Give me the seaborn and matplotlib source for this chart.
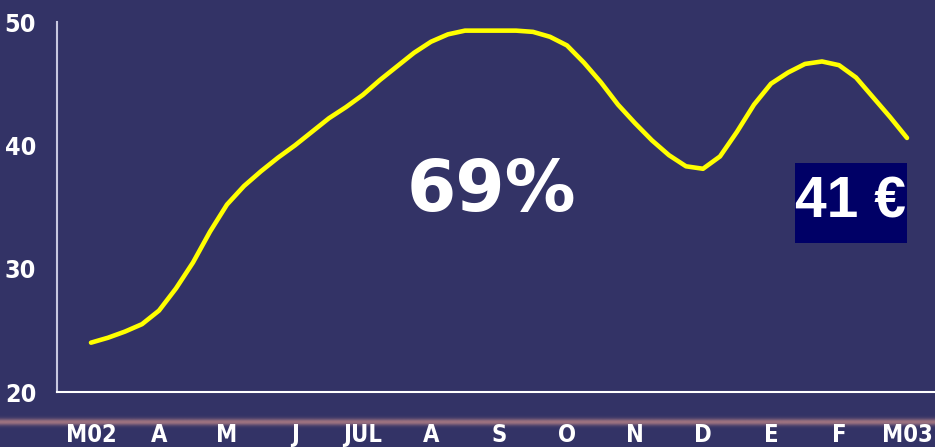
import numpy as np
import pandas as pd
import matplotlib
matplotlib.use('Agg')
import matplotlib.pyplot as plt
from matplotlib.patches import Rectangle
import seaborn as sns

# ----- data (quarter-month steps, M02 .. M03) -----
months = ['M02', 'A', 'M', 'J', 'JUL', 'A', 'S', 'O', 'N', 'D', 'E', 'F', 'M03']
price = [24.0, 24.4, 24.9, 25.5, 26.6, 28.4, 30.5, 33.0, 35.2, 36.7, 37.9, 39.0,
         40.0, 41.1, 42.2, 43.1, 44.1, 45.3, 46.4, 47.5, 48.4, 49.0, 49.3, 49.3,
         49.3, 49.3, 49.2, 48.8, 48.1, 46.7, 45.1, 43.3, 41.8, 40.4, 39.2, 38.3,
         38.1, 39.1, 41.1, 43.3, 45.0, 45.9, 46.6, 46.8, 46.5, 45.5, 43.9, 42.3, 40.6]
step = [i / 4 for i in range(len(price))]
share_label = '69%'
last_label = '41 €'
y_ticks = [20, 30, 40, 50]

BG = '#333366'
W, H = 935, 447

df = pd.DataFrame({'step': step, 'price': price})

sns.set_theme(style='white')
plt.rcParams['font.family'] = ['DejaVu Sans']

fig = plt.figure(figsize=(W / 100, H / 100), dpi=100)
fig.patch.set_facecolor(BG)

# glowing strip behind the month labels (slide template)
band = fig.add_axes([0, (H - 431) / H, 1, 18 / H], zorder=0)
prof = np.exp(-((np.linspace(-1, 1, 40)) / 0.38) ** 2)
rgba = np.zeros((40, 2, 4))
rgba[..., 0], rgba[..., 1], rgba[..., 2] = 165 / 255, 120 / 255, 130 / 255
rgba[..., 3] = prof[:, None] * 0.95
band.imshow(rgba, aspect='auto', extent=[0, 1, 0, 1], interpolation='bilinear')
band.patch.set_alpha(0)
band.axis('off')

ax = fig.add_axes([57 / W, (H - 392) / H, 884 / W, 370 / H], zorder=1)
ax.set_facecolor(BG)
ax.patch.set_alpha(0)

sns.lineplot(data=df, x='step', y='price', ax=ax, color='#FFFF00', linewidth=3.3,
             solid_capstyle='round', solid_joinstyle='round')

ax.set_xlim(-0.5, len(months) - 0.5)
ax.set_ylim(min(y_ticks), max(y_ticks))
ax.set_xlabel('')
ax.set_ylabel('')

lab_font = dict(fontweight='bold', color='white', fontstretch='condensed')

ax.set_xticks(np.arange(len(months) + 1) - 0.5)
ax.set_xticklabels([])
ax.set_xticks(np.arange(len(months)), minor=True)
ax.set_xticklabels(months, minor=True, fontsize=17, **lab_font)
ax.tick_params(axis='x', which='major', direction='out', length=8, width=1.2, color='#D8D8E8')
ax.tick_params(axis='x', which='minor', length=0, pad=22)

ax.set_yticks(y_ticks)
ax.set_yticklabels([str(v) for v in y_ticks], fontsize=18, **lab_font)
ax.tick_params(axis='y', direction='out', length=7, width=1.2, color='#D8D8E8', pad=8)

for side in ['top', 'right']:
    ax.spines[side].set_visible(False)
ax.spines['left'].set_color('#C8C8E0')
ax.spines['left'].set_linewidth(1.5)
ax.spines['bottom'].set_color('white')
ax.spines['bottom'].set_linewidth(1.5)

ax.text(0.492, 0.541, share_label, transform=ax.transAxes, ha='center', va='center',
        color='white', fontsize=51, fontweight='bold')

ax.add_patch(Rectangle((0.835, 0.4027), 0.1267, 0.216, transform=ax.transAxes,
                       facecolor='#000066', edgecolor='none', zorder=3))
ax.text(0.898, 0.511, last_label, transform=ax.transAxes, ha='center', va='center',
        color='white', fontsize=41, fontweight='bold', zorder=4,
        family=['Liberation Sans', 'DejaVu Sans'])

fig.savefig('out.png', dpi=100, facecolor=BG)
